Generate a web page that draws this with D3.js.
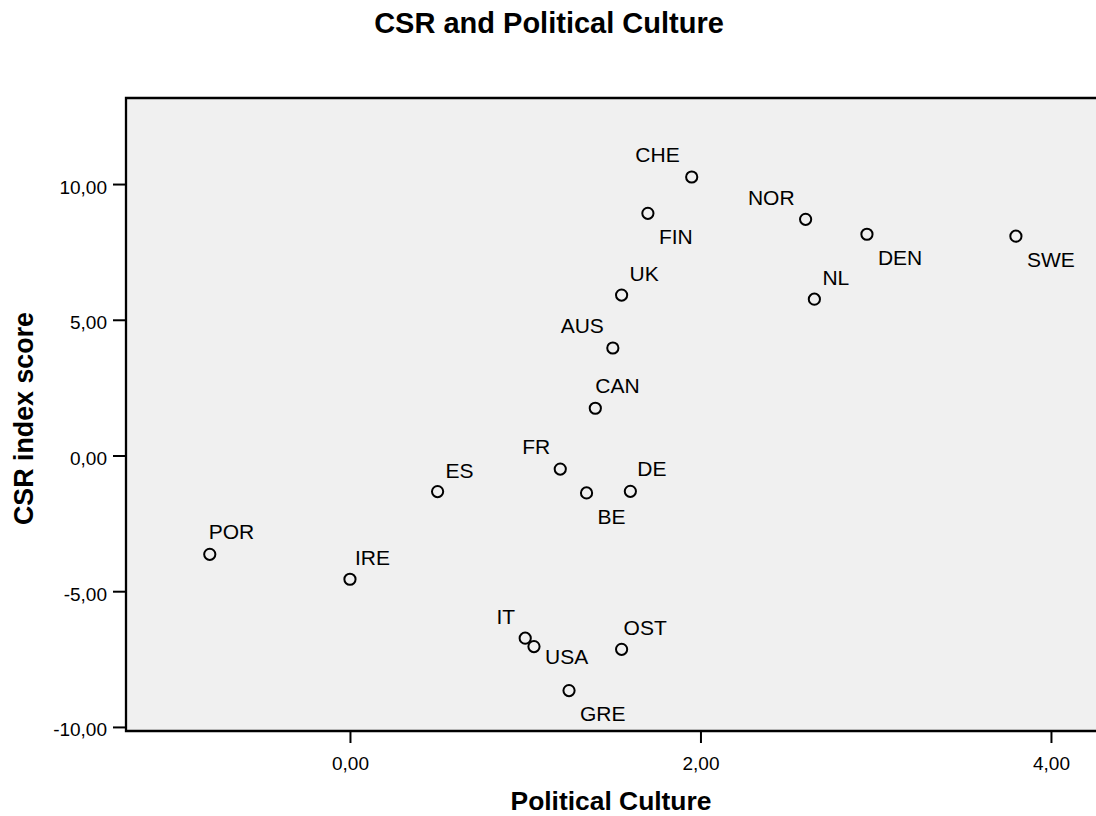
<!DOCTYPE html>
<html>
<head>
<meta charset="utf-8">
<script src="https://cdn.jsdelivr.net/npm/d3@7"></script>
<style>
  html, body { margin: 0; padding: 0; background: #ffffff; }
  svg { display: block; font-family: "Liberation Sans", Arial, sans-serif; }
</style>
</head>
<body>
<svg id="chart" width="1096" height="816"></svg>
<script>
// ---- data ----
const countries = ["POR","IRE","ES","IT","USA","OST","GRE","CHE","FIN","NOR","DEN","UK","NL","SWE","AUS","CAN","FR","BE","DE"];
const politicalCulture = [-0.80, 0.00, 0.50, 1.00, 1.05, 1.55, 1.25, 1.95, 1.70, 2.60, 2.95, 1.55, 2.65, 3.80, 1.50, 1.40, 1.20, 1.35, 1.60];
const csrIndex = [-3.64, -4.56, -1.33, -6.73, -7.04, -7.14, -8.66, 10.26, 8.92, 8.70, 8.15, 5.91, 5.76, 8.08, 3.96, 1.74, -0.50, -1.38, -1.32];
const xTicks = [0, 2, 4];
const yTicks = [-10, -5, 0, 5, 10];
const chartTitle = "CSR and Political Culture";
const xTitle = "Political Culture";
const yTitle = "CSR index score";

// ---- label layout (anchor, dx, dy in px) ----
const labelLayout = {
  POR:["start",-1,-15], IRE:["start",5,-14], ES:["start",8,-14], IT:["end",-10,-14],
  USA:["start",11,17], OST:["start",2,-14], GRE:["start",11,30], CHE:["end",-12,-15],
  FIN:["start",11,31], NOR:["end",-11,-14], DEN:["start",11,31], UK:["start",8,-14],
  NL:["start",8,-14], SWE:["start",11,31], AUS:["end",-9,-15], CAN:["start",0,-15],
  FR:["end",-10,-15], BE:["start",11,31], DE:["start",7,-15]
};

const svg = d3.select("#chart");
const pL = 126, pR = 1096, pT = 98, pB = 731;

const x = d3.scaleLinear().domain([-1.278, 4.257]).range([pL, pR]);
const y = d3.scaleLinear().domain([-10.15, 13.17]).range([pB, pT]);
const fmt = d => d3.format(".2f")(d).replace("\u2212", "-").replace(".", ",");

// plot background
svg.append("rect").attr("x", pL).attr("y", pT)
  .attr("width", pR - pL).attr("height", pB - pT)
  .attr("fill", "#f0f0f0");

// y axis
const gy = svg.append("g").attr("transform", `translate(${pL},0)`)
  .call(d3.axisLeft(y).tickValues(yTicks).tickFormat(fmt).tickSize(13).tickPadding(6));
gy.attr("font-size", 19).attr("font-family", "Liberation Sans, Arial, sans-serif");
gy.select(".domain").remove();
gy.selectAll(".tick line").attr("stroke", "#000").attr("stroke-width", 2);
gy.selectAll(".tick text").attr("fill", "#000").attr("dy", 9);

// x axis
const gx = svg.append("g").attr("transform", `translate(0,${pB})`)
  .call(d3.axisBottom(x).tickValues(xTicks).tickFormat(fmt).tickSize(12).tickPadding(13.5));
gx.attr("font-size", 19).attr("font-family", "Liberation Sans, Arial, sans-serif");
gx.select(".domain").remove();
gx.selectAll(".tick line").attr("stroke", "#000").attr("stroke-width", 2);
gx.selectAll(".tick text").attr("fill", "#000");

// frame (left, top, bottom)
svg.append("path")
  .attr("d", `M${pR},${pT}H${pL}V${pB}H${pR}`)
  .attr("fill", "none").attr("stroke", "#000").attr("stroke-width", 2.3);

// points
const data = countries.map((c, i) => ({ c, px: politicalCulture[i], py: csrIndex[i] }));
svg.append("g").selectAll("circle").data(data).join("circle")
  .attr("cx", d => x(d.px)).attr("cy", d => y(d.py)).attr("r", 5.6)
  .attr("fill", "none").attr("stroke", "#000").attr("stroke-width", 2);

// point labels
svg.append("g").selectAll("text").data(data).join("text")
  .attr("x", d => x(d.px) + labelLayout[d.c][1])
  .attr("y", d => y(d.py) + labelLayout[d.c][2])
  .attr("text-anchor", d => labelLayout[d.c][0])
  .attr("font-size", 21).attr("fill", "#000")
  .text(d => d.c);

// titles
svg.append("text").attr("x", 549).attr("y", 33).attr("text-anchor", "middle")
  .attr("font-size", 29).attr("font-weight", "bold").text(chartTitle);
svg.append("text").attr("x", (pL + pR) / 2).attr("y", 810).attr("text-anchor", "middle")
  .attr("font-size", 26.4).attr("font-weight", "bold").text(xTitle);
svg.append("text").attr("transform", `translate(33,418.5) rotate(-90)`).attr("text-anchor", "middle")
  .attr("font-size", 26.8).attr("font-weight", "bold").text(yTitle);
</script>
</body>
</html>
